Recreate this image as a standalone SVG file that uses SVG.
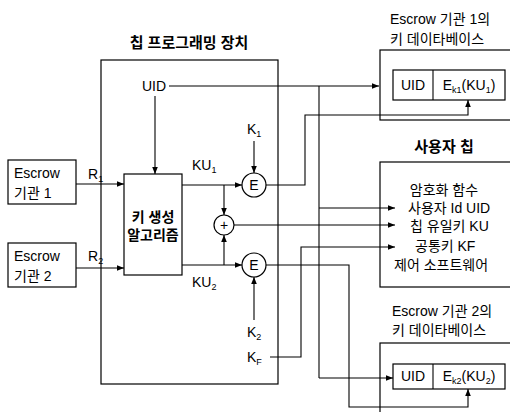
<svg xmlns="http://www.w3.org/2000/svg" width="510" height="412" viewBox="0 0 510 412">
<defs>
<marker id="ah" viewBox="0 0 10 10" refX="10" refY="5" markerWidth="7" markerHeight="7" orient="auto" markerUnits="userSpaceOnUse">
<path d="M0,1 L10,5 L0,9 z" fill="#000"/>
</marker>
</defs>
<style>
.box{fill:#fff;stroke:#000;stroke-width:1.2}
.ln{fill:none;stroke:#000;stroke-width:1.1}
.ar{fill:none;stroke:#000;stroke-width:1.1;marker-end:url(#ah)}
text{font-family:"Liberation Sans","Noto Sans CJK KR",sans-serif;font-size:14px;fill:#000}
.b{font-weight:bold}
.t{font-size:15px;font-weight:bold}
.s{font-size:9px}
</style>
<rect width="510" height="412" fill="#fff"/>

<g id="chip-programmer">
<text class="t" x="189" y="48" text-anchor="middle">칩 프로그래밍 장치</text>
<rect class="box" x="101" y="60" width="177" height="324"/>
</g>

<g id="escrow1">
<rect class="box" x="8" y="160" width="68" height="44"/>
<text x="14" y="178">Escrow</text>
<text x="14" y="198">기관 1</text>
</g>

<g id="escrow2">
<rect class="box" x="8" y="243" width="68" height="44"/>
<text x="14" y="261">Escrow</text>
<text x="14" y="281">기관 2</text>
</g>

<g id="keygen">
<rect class="box" x="124" y="174" width="58" height="101"/>
<text class="b" x="153" y="222" font-size="13" text-anchor="middle">키 생성</text>
<text class="b" x="153" y="240" font-size="13" text-anchor="middle">알고리즘</text>
</g>

<g id="enc1">
<circle class="box" cx="254" cy="185" r="12"/>
<text x="254" y="190" text-anchor="middle" font-size="15">E</text>
</g>

<g id="xor">
<circle class="box" cx="224" cy="225" r="10"/>
<text x="224" y="230" text-anchor="middle" font-size="15">+</text>
</g>

<g id="enc2">
<circle class="box" cx="254" cy="265" r="12"/>
<text x="254" y="270" text-anchor="middle" font-size="15">E</text>
</g>

<g id="labels">
<text x="142" y="91">UID</text>
<text x="88" y="179">R<tspan class="s" dy="3">1</tspan></text>
<text x="88" y="261">R<tspan class="s" dy="3">2</tspan></text>
<text x="192" y="170">KU<tspan class="s" dy="3">1</tspan></text>
<text x="192" y="287">KU<tspan class="s" dy="3">2</tspan></text>
<text x="247" y="134">K<tspan class="s" dy="3">1</tspan></text>
<text x="247" y="337">K<tspan class="s" dy="3">2</tspan></text>
<text x="247" y="362">K<tspan class="s" dy="3">F</tspan></text>
</g>

<g id="db1">
<text x="390" y="24">Escrow 기관 1의</text>
<text x="390" y="44">키 데이타베이스</text>
<rect class="box" x="380" y="50" width="140" height="70"/>
<rect class="box" x="393" y="70" width="112" height="30"/>
<line class="ln" x1="433" y1="70" x2="433" y2="100"/>
<text x="413" y="90" text-anchor="middle">UID</text>
<text x="469" y="90" text-anchor="middle">E<tspan class="s" dy="3">k1</tspan><tspan dy="-3">(KU</tspan><tspan class="s" dy="3">1</tspan><tspan dy="-3">)</tspan></text>
</g>

<g id="user-chip">
<text class="t" x="444" y="152" text-anchor="middle">사용자 칩</text>
<rect class="box" x="380" y="162" width="140" height="125"/>
<text x="444" y="195" text-anchor="middle">암호화 함수</text>
<text x="408" y="213">사용자 Id UID</text>
<text x="410" y="231">칩 유일키 KU</text>
<text x="415" y="251">공통키 KF</text>
<text x="394" y="270">제어 소프트웨어</text>
</g>

<g id="db2">
<text x="392" y="316">Escrow 기관 2의</text>
<text x="392" y="335">키 데이타베이스</text>
<rect class="box" x="380" y="343" width="140" height="80"/>
<rect class="box" x="393" y="364" width="112" height="25"/>
<line class="ln" x1="433" y1="364" x2="433" y2="389"/>
<text x="413" y="381" text-anchor="middle">UID</text>
<text x="469" y="381" text-anchor="middle">E<tspan class="s" dy="3">k2</tspan><tspan dy="-3">(KU</tspan><tspan class="s" dy="3">2</tspan><tspan dy="-3">)</tspan></text>
</g>

<g id="connectors">
<path class="ar" d="M76,184 H124"/>
<path class="ar" d="M76,268 H124"/>
<path class="ar" d="M155,96 V174"/>
<path class="ar" d="M169,86 H379"/>
<path class="ln" d="M319,86 V378"/>
<path class="ar" d="M319,208 H395"/>
<path class="ar" d="M319,378 H393"/>
<path class="ar" d="M182,185 H242"/>
<path class="ar" d="M182,265 H242"/>
<path class="ar" d="M224,185 V215"/>
<path class="ar" d="M224,265 V235"/>
<path class="ar" d="M254,141 V173"/>
<path class="ar" d="M254,320 V277"/>
<path class="ar" d="M266,185 H305 V115 H468 V100"/>
<path class="ar" d="M234,225 H395"/>
<path class="ar" d="M270,357 H301 V247 H395"/>
<path class="ar" d="M266,265 H349 V407 H468 V389"/>
</g>
</svg>
